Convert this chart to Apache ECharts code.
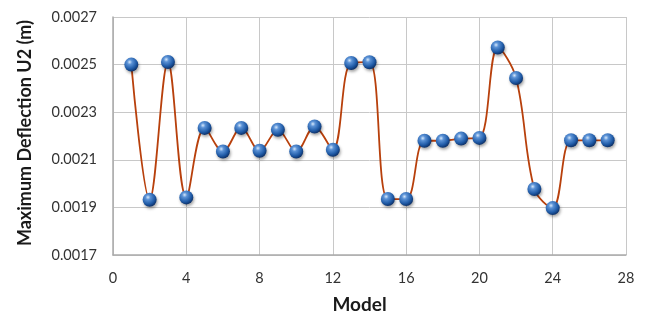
<!DOCTYPE html>
<html>
<head>
<meta charset="utf-8">
<script src="https://cdn.jsdelivr.net/npm/echarts@6/dist/echarts.min.js"></script>
<style>
  html, body { margin: 0; padding: 0; background: #fff; }
  #chart { width: 645px; height: 323px; }
</style>
</head>
<body>
<div id="chart"></div>
<script>
const models = [1, 2, 3, 4, 5, 6, 7, 8, 9, 10, 11, 12, 13, 14, 15, 16, 17, 18, 19, 20, 21, 22, 23, 24, 25, 26, 27];
const deflection = [
  0.002500, 0.001932, 0.002511, 0.001942, 0.002234, 0.002135, 0.002234, 0.002138, 0.002226,
  0.002135, 0.002240, 0.002142, 0.002507, 0.002510, 0.001935, 0.001935, 0.002180, 0.002180,
  0.002189, 0.002192, 0.002572, 0.002444, 0.001977, 0.001897, 0.002182, 0.002182, 0.002182
];

const font = "Lato, 'Open Sans', sans-serif";
const gridColor = "#c8c8c8";

const sphere = new echarts.graphic.RadialGradient(0.38, 0.32, 0.7, [
  { offset: 0, color: "#d6e8fb" },
  { offset: 0.25, color: "#5b92d6" },
  { offset: 0.7, color: "#1f5aa6" },
  { offset: 1, color: "#0c2f66" }
]);

const chart = echarts.init(document.getElementById("chart"), null, { renderer: "canvas" });
chart.setOption({
  animation: false,
  grid: { left: 113, right: 19, top: 17, bottom: 68 },
  xAxis: {
    type: "value",
    min: 0,
    max: 28,
    interval: 4,
    name: "Model",
    nameLocation: "middle",
    nameGap: 40,
    nameTextStyle: { fontFamily: font, fontSize: 19, fontWeight: "bold", color: "#1a1a1a", padding: [0, 20, 0, 0] },
    axisLine: { show: true, lineStyle: { color: "#aaaaaa", width: 1.5 } },
    axisTick: { show: false },
    axisLabel: { fontFamily: font, fontSize: 14.5, color: "#333", margin: 16 },
    splitLine: { show: true, lineStyle: { color: gridColor, width: 1 } }
  },
  yAxis: {
    type: "value",
    min: 0.0017,
    max: 0.0027,
    interval: 0.0002,
    name: "Maximum Deflection U2 (m)",
    nameLocation: "middle",
    nameGap: 79,
    nameTextStyle: { fontFamily: font, fontSize: 18, fontWeight: "bold", color: "#1a1a1a", padding: [0, 0, 0, 6] },
    axisLine: { show: true, lineStyle: { color: "#aaaaaa", width: 1.5 } },
    axisTick: { show: false },
    axisLabel: {
      fontFamily: font, fontSize: 14.5, color: "#333", margin: 16,
      formatter: v => v.toFixed(4)
    },
    splitLine: { show: true, lineStyle: { color: gridColor, width: 1 } }
  },
  series: [{
    type: "line",
    data: models.map((m, i) => [m, deflection[i]]),
    smooth: 0.35,
    lineStyle: { color: "#b8400c", width: 1.8 },
    symbol: "circle",
    symbolSize: 14,
    itemStyle: {
      color: sphere,
      borderWidth: 0,
      shadowColor: "rgba(0,0,0,0.35)",
      shadowBlur: 3,
      shadowOffsetX: 1,
      shadowOffsetY: 2
    }
  }]
});
</script>
</body>
</html>
